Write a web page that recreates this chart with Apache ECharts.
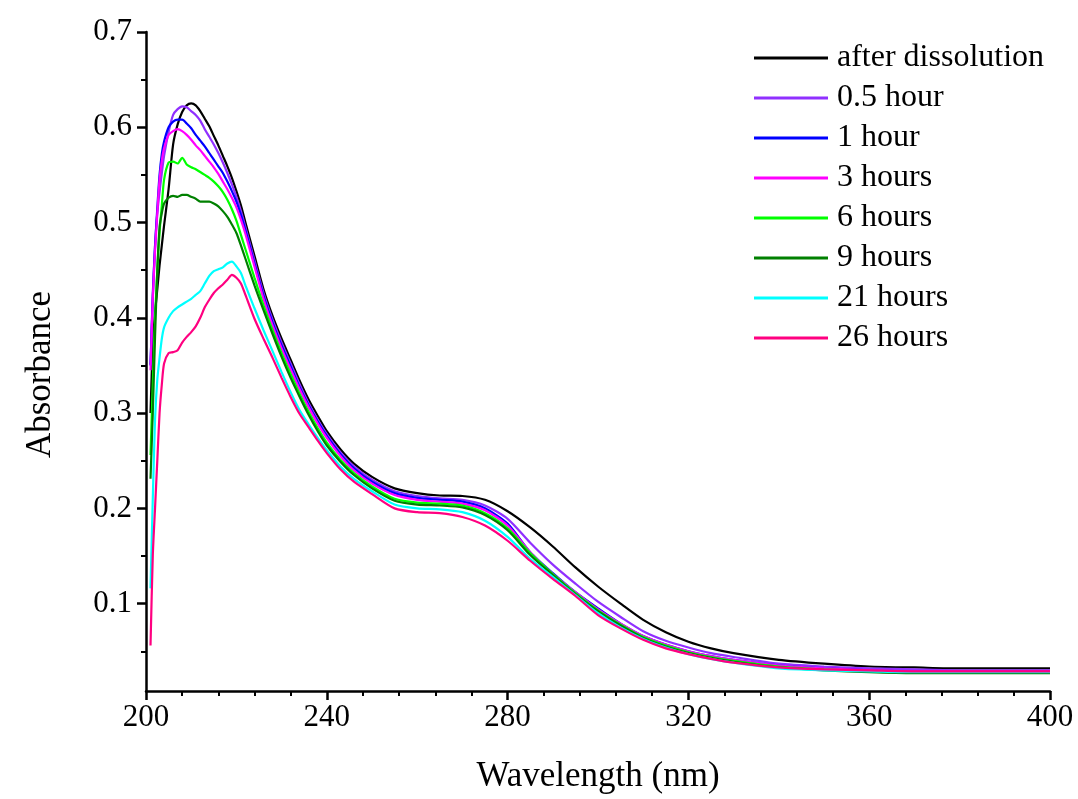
<!DOCTYPE html>
<html><head><meta charset="utf-8">
<script src="https://cdn.jsdelivr.net/npm/echarts@6/dist/echarts.min.js"></script>
<style>html,body{margin:0;padding:0;background:#fff}#chart{width:1078px;height:799px}</style>
</head><body><div id="chart"></div>
<script>
const wavelengths = [201, 201.5, 202, 202.5, 203, 203.5, 204, 205, 206, 207, 208, 209, 210, 211, 212, 213, 214, 215, 216, 217, 218, 219, 220, 221, 222, 224, 226, 228, 230, 232, 234, 236, 238, 240, 243, 246, 250, 255, 260, 265, 270, 275, 280, 285, 290, 295, 300, 305, 310, 315, 320, 325, 330, 340, 350, 360, 370, 380, 390, 400];

const afterDissolution = [0.300, 0.372, 0.405, 0.430, 0.455, 0.476, 0.497, 0.535, 0.582, 0.603, 0.616, 0.623, 0.625, 0.623, 0.617, 0.609, 0.601, 0.591, 0.581, 0.570, 0.559, 0.547, 0.533, 0.518, 0.500, 0.465, 0.430, 0.402, 0.378, 0.356, 0.334, 0.314, 0.297, 0.281, 0.262, 0.247, 0.233, 0.221, 0.216, 0.2135, 0.213, 0.209, 0.197, 0.180, 0.160, 0.138, 0.118, 0.100, 0.083, 0.070, 0.060, 0.053, 0.048, 0.041, 0.037, 0.034, 0.033, 0.032, 0.032, 0.032];

const hour05 = [0.351, 0.420, 0.476, 0.510, 0.532, 0.552, 0.570, 0.595, 0.613, 0.619, 0.622, 0.621, 0.617, 0.613, 0.607, 0.598, 0.590, 0.582, 0.573, 0.563, 0.552, 0.540, 0.527, 0.512, 0.495, 0.460, 0.426, 0.398, 0.374, 0.352, 0.330, 0.310, 0.293, 0.278, 0.259, 0.244, 0.230, 0.218, 0.213, 0.2105, 0.209, 0.203, 0.189, 0.164, 0.141, 0.121, 0.102, 0.086, 0.071, 0.061, 0.054, 0.048, 0.044, 0.037, 0.034, 0.032, 0.031, 0.030, 0.030, 0.030];

const hour1 = [0.350, 0.425, 0.475, 0.515, 0.550, 0.572, 0.585, 0.600, 0.606, 0.608, 0.608, 0.604, 0.599, 0.592, 0.586, 0.580, 0.573, 0.566, 0.559, 0.552, 0.543, 0.533, 0.522, 0.508, 0.492, 0.457, 0.423, 0.395, 0.371, 0.349, 0.327, 0.308, 0.291, 0.276, 0.257, 0.242, 0.228, 0.216, 0.211, 0.209, 0.207, 0.200, 0.184, 0.154, 0.132, 0.112, 0.095, 0.079, 0.066, 0.057, 0.050, 0.045, 0.041, 0.035, 0.032, 0.030, 0.029, 0.029, 0.029, 0.029];

const hours3 = [0.345, 0.420, 0.470, 0.510, 0.545, 0.565, 0.578, 0.592, 0.596, 0.598, 0.596, 0.592, 0.587, 0.581, 0.576, 0.570, 0.564, 0.558, 0.551, 0.543, 0.535, 0.526, 0.516, 0.503, 0.488, 0.454, 0.420, 0.392, 0.368, 0.346, 0.325, 0.306, 0.289, 0.274, 0.255, 0.240, 0.226, 0.214, 0.209, 0.207, 0.205, 0.198, 0.182, 0.154, 0.131, 0.112, 0.094, 0.079, 0.066, 0.057, 0.050, 0.045, 0.041, 0.035, 0.032, 0.030, 0.029, 0.029, 0.029, 0.029];

const hours6 = [0.256, 0.330, 0.400, 0.450, 0.490, 0.518, 0.545, 0.563, 0.564, 0.562, 0.568, 0.561, 0.558, 0.556, 0.553, 0.550, 0.547, 0.543, 0.538, 0.532, 0.524, 0.514, 0.502, 0.487, 0.472, 0.442, 0.413, 0.387, 0.363, 0.341, 0.320, 0.301, 0.284, 0.269, 0.251, 0.237, 0.223, 0.210, 0.206, 0.205, 0.203, 0.195, 0.179, 0.153, 0.131, 0.111, 0.093, 0.078, 0.065, 0.056, 0.049, 0.044, 0.040, 0.034, 0.031, 0.029, 0.028, 0.028, 0.028, 0.028];

const hours9 = [0.231, 0.300, 0.380, 0.450, 0.495, 0.510, 0.520, 0.526, 0.528, 0.527, 0.529, 0.529, 0.527, 0.525, 0.522, 0.522, 0.522, 0.520, 0.517, 0.512, 0.506, 0.498, 0.489, 0.476, 0.462, 0.434, 0.408, 0.383, 0.359, 0.337, 0.317, 0.298, 0.281, 0.266, 0.249, 0.235, 0.221, 0.208, 0.204, 0.203, 0.201, 0.193, 0.177, 0.151, 0.130, 0.110, 0.092, 0.077, 0.064, 0.055, 0.048, 0.043, 0.039, 0.033, 0.030, 0.028, 0.027, 0.027, 0.027, 0.027];

const hours21 = [0.116, 0.210, 0.293, 0.335, 0.358, 0.378, 0.390, 0.400, 0.407, 0.411, 0.414, 0.417, 0.420, 0.424, 0.428, 0.436, 0.444, 0.449, 0.451, 0.453, 0.457, 0.459, 0.454, 0.447, 0.434, 0.410, 0.387, 0.365, 0.343, 0.322, 0.303, 0.288, 0.274, 0.261, 0.244, 0.231, 0.218, 0.204, 0.200, 0.199, 0.196, 0.187, 0.170, 0.147, 0.128, 0.109, 0.090, 0.075, 0.063, 0.054, 0.047, 0.042, 0.038, 0.032, 0.030, 0.029, 0.028, 0.028, 0.028, 0.028];

const hours26 = [0.056, 0.150, 0.200, 0.250, 0.300, 0.330, 0.352, 0.363, 0.364, 0.366, 0.374, 0.380, 0.385, 0.391, 0.400, 0.411, 0.419, 0.426, 0.431, 0.435, 0.440, 0.445, 0.442, 0.436, 0.424, 0.399, 0.378, 0.358, 0.337, 0.317, 0.299, 0.285, 0.271, 0.258, 0.241, 0.228, 0.215, 0.200, 0.196, 0.195, 0.191, 0.182, 0.166, 0.145, 0.126, 0.108, 0.088, 0.074, 0.062, 0.053, 0.047, 0.042, 0.038, 0.033, 0.031, 0.030, 0.029, 0.029, 0.029, 0.029];

const seriesNames = ['after dissolution', '0.5 hour', '1 hour', '3 hours', '6 hours', '9 hours', '21 hours', '26 hours'];
const seriesValues = [afterDissolution, hour05, hour1, hours3, hours6, hours9, hours21, hours26];
const seriesColors = ['#000000', '#9030FF', '#0000FF', '#FF00FF', '#00FF00', '#008000', '#00FFFF', '#FF0080'];

const yMajorTicks = [0.1, 0.2, 0.3, 0.4, 0.5, 0.6, 0.7];
const yMinorTicks = [0.05, 0.15, 0.25, 0.35, 0.45, 0.55, 0.65];
const xMin = 200, xMax = 400, xStep = 40;
const yMin = 0.0083, yMax = 0.7;

const FONT = "'Liberation Serif', 'Times New Roman', serif";
const chart = echarts.init(document.getElementById('chart'), null, {renderer: 'canvas'});

const series = seriesNames.map((name, i) => ({
  name: name,
  type: 'line',
  xAxisIndex: 0,
  yAxisIndex: 0,
  showSymbol: false,
  symbol: 'none',
  smooth: 0.25,
  lineStyle: {width: 2.2, color: seriesColors[i]},
  itemStyle: {color: seriesColors[i]},
  data: wavelengths.map((w, j) => [w, seriesValues[i][j]]),
  animation: false
}));

chart.setOption({
  animation: false,
  backgroundColor: '#ffffff',
  textStyle: {fontFamily: FONT, color: '#000'},
  grid: {left: 146, right: 28, top: 32, bottom: 103, containLabel: false},
  legend: {
    data: seriesNames,
    orient: 'vertical',
    left: 749,
    top: 37,
    itemWidth: 74,
    itemHeight: 3,
    itemGap: 8,
    icon: 'rect',
    selectedMode: false,
    textStyle: {fontFamily: FONT, fontSize: 32, color: '#000', lineHeight: 32, padding: [0, 0, 0, 4]}
  },
  xAxis: {
    type: 'value',
    min: xMin, max: xMax, interval: xStep,
    name: 'Wavelength (nm)',
    nameLocation: 'middle',
    nameGap: 68,
    nameTextStyle: {fontFamily: FONT, fontSize: 35, color: '#000'},
    axisLine: {show: true, onZero: false, lineStyle: {color: '#000', width: 2.5}},
    axisTick: {show: true, inside: false, length: 9, lineStyle: {color: '#000', width: 2.5}},
    minorTick: {show: true, splitNumber: 5, length: 5, lineStyle: {color: '#000', width: 2}},
    axisLabel: {fontFamily: FONT, fontSize: 31, color: '#000', margin: 11},
    splitLine: {show: false},
    minorSplitLine: {show: false}
  },
  yAxis: [{
    type: 'value',
    min: yMin, max: yMax,
    position: 'left',
    name: 'Absorbance',
    nameLocation: 'middle',
    nameGap: 88,
    nameRotate: 90,
    nameTextStyle: {fontFamily: FONT, fontSize: 35, color: '#000', padding: [0, 26, 0, 0]},
    axisLine: {show: true, onZero: false, lineStyle: {color: '#000', width: 2.5}},
    axisTick: {show: true, inside: false, length: 9, customValues: yMajorTicks, lineStyle: {color: '#000', width: 2.5}},
    axisLabel: {fontFamily: FONT, fontSize: 31, color: '#000', margin: 14, customValues: yMajorTicks,
      formatter: v => v.toFixed(1)},
    splitLine: {show: false}
  }, {
    type: 'value',
    min: yMin, max: yMax,
    position: 'left',
    axisLine: {show: false},
    axisTick: {show: true, inside: false, length: 5, customValues: yMinorTicks, lineStyle: {color: '#000', width: 2}},
    axisLabel: {show: false},
    splitLine: {show: false}
  }],
  series: series
});
</script>
</body></html>
